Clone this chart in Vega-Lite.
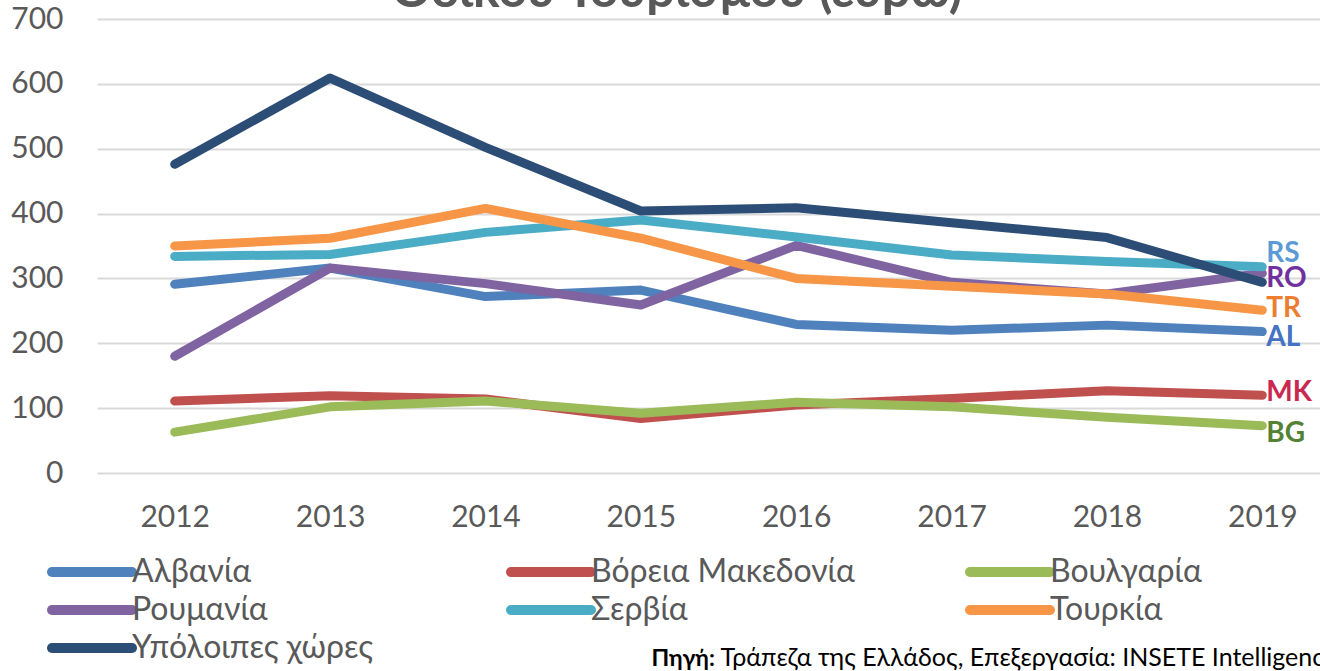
{
  "$schema": "https://vega.github.io/schema/vega-lite/v6.json",
  "autosize": "none",
  "width": 1243,
  "height": 454,
  "padding": {"left": 97, "top": 19, "right": 0, "bottom": 198},
  "background": "white",
  "config": {
    "view": {"stroke": null},
    "axis": {"labelFont": "Lato", "labelColor": "#595959", "labelFontSize": 30},
    "legend": {
      "orient": "none",
      "direction": "horizontal",
      "legendX": -21,
      "legendY": 537,
      "columns": 3,
      "gridAlign": "all",
      "columnPadding": 95,
      "rowPadding": -2,
      "padding": 0,
      "symbolType": "M-8,0H8",
      "symbolSize": 100,
      "symbolStrokeWidth": 10,
      "labelOffset": 24,
      "labelFont": "Lato",
      "labelFontSize": 32,
      "labelColor": "#595959",
      "labelLimit": 500
    }
  },
  "datasets": {
    "series": [
      {"year": "2012", "country": "Αλβανία", "value": 291},
      {"year": "2013", "country": "Αλβανία", "value": 316},
      {"year": "2014", "country": "Αλβανία", "value": 272},
      {"year": "2015", "country": "Αλβανία", "value": 282},
      {"year": "2016", "country": "Αλβανία", "value": 229},
      {"year": "2017", "country": "Αλβανία", "value": 220},
      {"year": "2018", "country": "Αλβανία", "value": 228},
      {"year": "2019", "country": "Αλβανία", "value": 218},
      {"year": "2012", "country": "Βόρεια Μακεδονία", "value": 111},
      {"year": "2013", "country": "Βόρεια Μακεδονία", "value": 119},
      {"year": "2014", "country": "Βόρεια Μακεδονία", "value": 114},
      {"year": "2015", "country": "Βόρεια Μακεδονία", "value": 84},
      {"year": "2016", "country": "Βόρεια Μακεδονία", "value": 105},
      {"year": "2017", "country": "Βόρεια Μακεδονία", "value": 115},
      {"year": "2018", "country": "Βόρεια Μακεδονία", "value": 127},
      {"year": "2019", "country": "Βόρεια Μακεδονία", "value": 120},
      {"year": "2012", "country": "Βουλγαρία", "value": 63},
      {"year": "2013", "country": "Βουλγαρία", "value": 102},
      {"year": "2014", "country": "Βουλγαρία", "value": 111},
      {"year": "2015", "country": "Βουλγαρία", "value": 92},
      {"year": "2016", "country": "Βουλγαρία", "value": 109},
      {"year": "2017", "country": "Βουλγαρία", "value": 102},
      {"year": "2018", "country": "Βουλγαρία", "value": 86},
      {"year": "2019", "country": "Βουλγαρία", "value": 73},
      {"year": "2012", "country": "Ρουμανία", "value": 180},
      {"year": "2013", "country": "Ρουμανία", "value": 316},
      {"year": "2014", "country": "Ρουμανία", "value": 292},
      {"year": "2015", "country": "Ρουμανία", "value": 259},
      {"year": "2016", "country": "Ρουμανία", "value": 351},
      {"year": "2017", "country": "Ρουμανία", "value": 294},
      {"year": "2018", "country": "Ρουμανία", "value": 276},
      {"year": "2019", "country": "Ρουμανία", "value": 308},
      {"year": "2012", "country": "Σερβία", "value": 334},
      {"year": "2013", "country": "Σερβία", "value": 337},
      {"year": "2014", "country": "Σερβία", "value": 371},
      {"year": "2015", "country": "Σερβία", "value": 390},
      {"year": "2016", "country": "Σερβία", "value": 364},
      {"year": "2017", "country": "Σερβία", "value": 336},
      {"year": "2018", "country": "Σερβία", "value": 326},
      {"year": "2019", "country": "Σερβία", "value": 318},
      {"year": "2012", "country": "Τουρκία", "value": 350},
      {"year": "2013", "country": "Τουρκία", "value": 362},
      {"year": "2014", "country": "Τουρκία", "value": 408},
      {"year": "2015", "country": "Τουρκία", "value": 362},
      {"year": "2016", "country": "Τουρκία", "value": 300},
      {"year": "2017", "country": "Τουρκία", "value": 288},
      {"year": "2018", "country": "Τουρκία", "value": 276},
      {"year": "2019", "country": "Τουρκία", "value": 251},
      {"year": "2012", "country": "Υπόλοιπες χώρες", "value": 476},
      {"year": "2013", "country": "Υπόλοιπες χώρες", "value": 609},
      {"year": "2014", "country": "Υπόλοιπες χώρες", "value": 502},
      {"year": "2015", "country": "Υπόλοιπες χώρες", "value": 404},
      {"year": "2016", "country": "Υπόλοιπες χώρες", "value": 409},
      {"year": "2017", "country": "Υπόλοιπες χώρες", "value": 386},
      {"year": "2018", "country": "Υπόλοιπες χώρες", "value": 363},
      {"year": "2019", "country": "Υπόλοιπες χώρες", "value": 294}
    ],
    "codes": [
      {"year": "2019", "code": "RS", "value": 338},
      {"year": "2019", "code": "RO", "value": 299},
      {"year": "2019", "code": "TR", "value": 253},
      {"year": "2019", "code": "AL", "value": 208},
      {"year": "2019", "code": "MK", "value": 123},
      {"year": "2019", "code": "BG", "value": 60}
    ],
    "heading": [
      {"text": "Οδικού Τουρισμού (ευρώ)"}
    ]
  },
  "layer": [
    {
      "data": {"name": "series"},
      "mark": {"type": "line", "strokeWidth": 9, "strokeCap": "round", "strokeJoin": "round"},
      "encoding": {
        "x": {
          "field": "year",
          "type": "ordinal",
          "scale": {"type": "point", "padding": 0.5},
          "axis": {
            "title": "Τράπεζα της Ελλάδος, Επεξεργασία: INSETE Intelligence",
            "titleX": 623,
            "titleY": 192,
            "titleAlign": "left",
            "titleBaseline": "alphabetic",
            "titleFont": "Lato",
            "titleFontSize": 25,
            "titleFontWeight": "normal",
            "titleColor": "#000000",
            "labelAngle": 0,
            "labelPadding": 29,
            "ticks": false,
            "domain": false,
            "grid": false
          }
        },
        "y": {
          "field": "value",
          "type": "quantitative",
          "scale": {"domain": [0, 700], "nice": false},
          "axis": {
            "title": "Πηγή:",
            "titleAngle": 0,
            "titleX": 554,
            "titleY": 646,
            "titleAlign": "left",
            "titleBaseline": "alphabetic",
            "titleFont": "Lato",
            "titleFontSize": 23,
            "titleFontWeight": "bold",
            "titleColor": "#000000",
            "values": [0, 100, 200, 300, 400, 500, 600, 700],
            "labelPadding": 34,
            "ticks": false,
            "domain": false,
            "grid": true,
            "gridColor": "#D9D9D9",
            "gridWidth": 2
          }
        },
        "color": {
          "field": "country",
          "type": "nominal",
          "scale": {
            "domain": ["Αλβανία", "Βόρεια Μακεδονία", "Βουλγαρία", "Ρουμανία", "Σερβία", "Τουρκία", "Υπόλοιπες χώρες"],
            "range": ["#4F81BD", "#C0504D", "#9BBB59", "#8064A2", "#4BACC6", "#F79646", "#2C4D75"]
          },
          "legend": {
            "title": null,
            "encode": {"symbols": {"update": {"strokeCap": {"value": "round"}}}}
          }
        }
      }
    },
    {
      "data": {"name": "codes"},
      "mark": {"type": "text", "align": "left", "baseline": "middle", "dx": 4, "font": "Lato", "fontSize": 28, "fontWeight": "bold"},
      "encoding": {
        "x": {"field": "year", "type": "ordinal"},
        "y": {"field": "value", "type": "quantitative"},
        "text": {"field": "code"},
        "color": {
          "field": "code",
          "type": "nominal",
          "scale": {
            "domain": ["RS", "RO", "TR", "AL", "MK", "BG"],
            "range": ["#5B9BD5", "#7030A0", "#ED7D31", "#4472C4", "#C9284F", "#548235"]
          },
          "legend": null
        }
      }
    },
    {
      "data": {"name": "heading"},
      "mark": {"type": "text", "align": "center", "baseline": "alphabetic", "dx": 36, "font": "Lato", "fontSize": 50, "fontWeight": "bold", "color": "#595959"},
      "encoding": {
        "x": {"datum": "2015", "type": "ordinal"},
        "y": {"datum": 718, "type": "quantitative"},
        "text": {"field": "text", "type": "nominal"}
      }
    }
  ],
  "resolve": {"scale": {"color": "independent"}}
}
